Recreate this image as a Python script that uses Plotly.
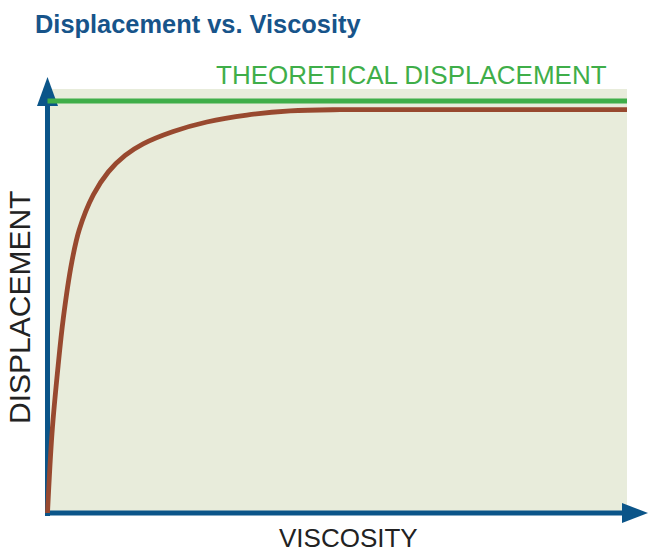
import plotly.graph_objects as go

# ---- data ----
viscosity = [0.0, 0.078, 0.181, 0.273, 0.418, 0.549, 0.79, 1.05, 1.34, 1.65,
             2.17, 2.75, 3.44, 4.19, 5.05, 6.5, 10.0]
displacement = [0.0, 0.194, 0.354, 0.473, 0.608, 0.688, 0.772, 0.828, 0.868, 0.896,
                0.926, 0.949, 0.966, 0.976, 0.979, 0.979, 0.979]
theory_x = [0.0, 10.0]
theory_y = [1.0, 1.0]

# body margin is removed in the page (post_script), so figure = whole window
W, H = 648, 552
BLUE = "#0b5589"
GREEN = "#3fae49"
BROWN = "#98492f"
FILL = "#e8ecdb"

# pixel geometry of the plotting frame (window pixels)
X0_PX, X10_PX = 47.5, 627.0
Y0_PX, Y1_PX = 513.0, 101.0
sx = (X10_PX - X0_PX) / 10.0
sy = (Y0_PX - Y1_PX) / 1.0


def dx(px):
    return (px - X0_PX) / sx


def dy(py):
    return (Y0_PX - py) / sy


fig = go.Figure()

fig.add_trace(go.Scatter(x=theory_x, y=theory_y, mode="lines",
                         line=dict(color=GREEN, width=5), hoverinfo="skip"))
fig.add_trace(go.Scatter(x=viscosity, y=displacement, mode="lines",
                         line=dict(color=BROWN, width=4.8, shape="spline", smoothing=1.0),
                         hoverinfo="skip"))

shapes = [
    # background panel
    dict(type="rect", x0=dx(48), x1=dx(627), y0=dy(513), y1=dy(89),
         fillcolor=FILL, line=dict(width=0), layer="below"),
    # y axis
    dict(type="line", x0=dx(47.5), x1=dx(47.5), y0=dy(516), y1=dy(104),
         line=dict(color=BLUE, width=5), layer="below"),
    dict(type="path", path="M {} {} L {} {} L {} {} Z".format(
        dx(37), dy(106), dx(47.5), dy(77), dx(58), dy(106)),
         fillcolor=BLUE, line=dict(width=0), layer="below"),
    # x axis
    dict(type="line", x0=dx(45), x1=dx(624), y0=dy(513), y1=dy(513),
         line=dict(color=BLUE, width=5), layer="below"),
    dict(type="path", path="M {} {} L {} {} L {} {} Z".format(
        dx(622), dy(503), dx(648), dy(513), dx(622), dy(523)),
         fillcolor=BLUE, line=dict(width=0), layer="below"),
]

font = "Liberation Sans, Arial, sans-serif"
annotations = [
    dict(text="<b>Displacement vs. Viscosity</b>", x=33 / W, y=1 - 24 / H,
         xref="paper", yref="paper", xanchor="left", yanchor="middle",
         showarrow=False, font=dict(family=font, size=25.4, color="#17548a")),
    dict(text="THEORETICAL DISPLACEMENT", x=609 / W, y=1 - 75 / H,
         xref="paper", yref="paper", xanchor="right", yanchor="middle",
         showarrow=False, font=dict(family=font, size=26, color=GREEN)),
    dict(text="DISPLACEMENT", x=19 / W, y=1 - 308 / H, textangle=-90,
         xref="paper", yref="paper", xanchor="center", yanchor="middle",
         showarrow=False, borderpad=0, font=dict(family=font, size=30, color="#222222")),
    dict(text="VISCOSITY", x=349 / W, y=1 - 537.5 / H,
         xref="paper", yref="paper", xanchor="center", yanchor="middle",
         showarrow=False, borderpad=0, font=dict(family=font, size=26, color="#222222")),
]

fig.update_layout(
    width=W, height=H,
    margin=dict(l=0, r=0, t=0, b=0),
    paper_bgcolor="white", plot_bgcolor="white",
    showlegend=False,
    shapes=shapes, annotations=annotations,
    xaxis=dict(range=[dx(0), dx(W)], visible=False, fixedrange=True),
    yaxis=dict(range=[dy(H), dy(0)], visible=False, fixedrange=True),
)

fig.write_html("out.html", config={"displayModeBar": False},
               post_script="document.body.style.margin = '0';")
